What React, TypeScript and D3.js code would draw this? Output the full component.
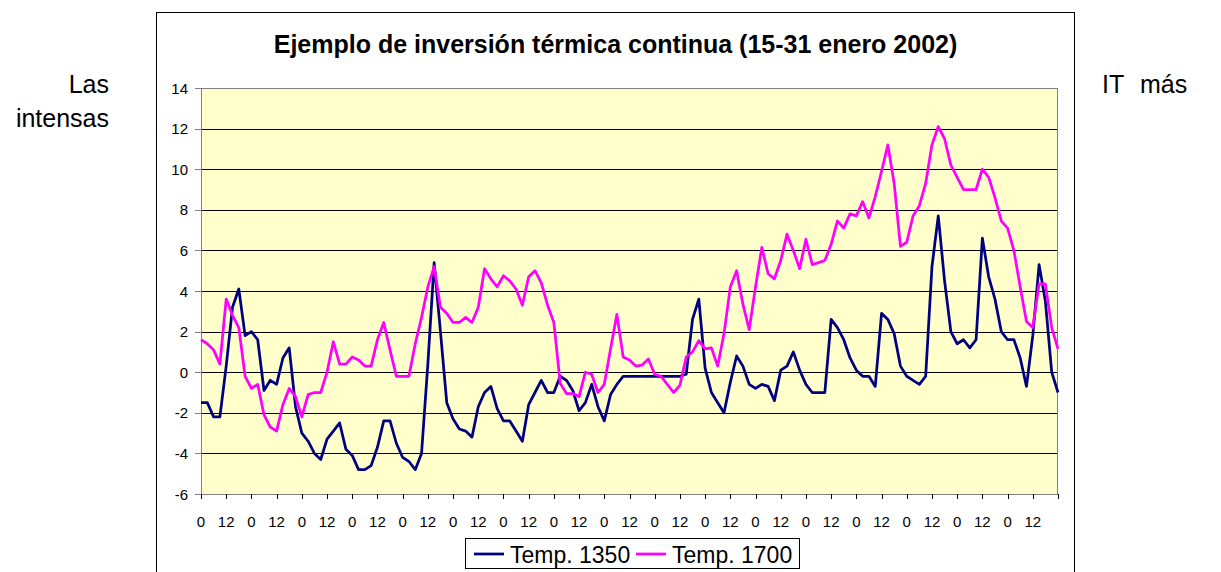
import React, { useEffect, useRef } from 'react';
import * as d3 from 'd3';

// hourly series, one value every 3 hours (15-31 Jan 2002)
const stepHours = 3;

const temp1350 = [
  -1.5, -1.5, -2.2, -2.2, 0.3, 3.2, 4.1, 1.8, 2.0, 1.6,
  -0.9, -0.4, -0.6, 0.7, 1.2, -1.7, -3.0, -3.4, -4.0, -4.3,
  -3.3, -2.9, -2.5, -3.8, -4.1, -4.8, -4.8, -4.6, -3.7, -2.4,
  -2.4, -3.5, -4.2, -4.4, -4.8, -4.0, 0.4, 5.4, 2.0, -1.5,
  -2.3, -2.8, -2.9, -3.2, -1.7, -1.0, -0.7, -1.8, -2.4, -2.4,
  -2.9, -3.4, -1.6, -1.0, -0.4, -1.0, -1.0, -0.2, -0.4, -0.9,
  -1.9, -1.5, -0.6, -1.7, -2.4, -1.1, -0.6, -0.2, -0.2, -0.2,
  -0.2, -0.2, -0.2, -0.2, -0.2, -0.2, -0.2, -0.1, 2.6, 3.6,
  0.2, -1.0, -1.5, -2.0, -0.5, 0.8, 0.3, -0.6, -0.8, -0.6,
  -0.7, -1.4, 0.1, 0.3, 1.0, 0.1, -0.6, -1.0, -1.0, -1.0,
  2.6, 2.2, 1.6, 0.7, 0.1, -0.2, -0.2, -0.7, 2.9, 2.6,
  1.9, 0.3, -0.2, -0.4, -0.6, -0.2, 5.2, 7.7, 4.5, 2.0,
  1.4, 1.6, 1.2, 1.6, 6.6, 4.7, 3.6, 2.0, 1.6, 1.6,
  0.7, -0.7, 1.8, 5.3, 3.5, 0.0, -1.0
];

const temp1700 = [
  1.6, 1.4, 1.1, 0.4, 3.6, 2.8, 2.2, -0.2, -0.8, -0.6,
  -2.1, -2.7, -2.9, -1.6, -0.8, -1.2, -2.2, -1.1, -1.0, -1.0,
  0.0, 1.5, 0.4, 0.4, 0.75, 0.6, 0.3, 0.3, 1.6, 2.45,
  1.1, -0.2, -0.2, -0.2, 1.4, 2.7, 4.2, 5.2, 3.2, 2.9,
  2.45, 2.45, 2.7, 2.45, 3.2, 5.1, 4.6, 4.2, 4.75, 4.5,
  4.1, 3.3, 4.7, 5.0, 4.4, 3.3, 2.45, -0.55, -1.05, -1.05,
  -1.2, 0.0, -0.1, -1.0, -0.6, 1.15, 2.85, 0.75, 0.6, 0.3,
  0.35, 0.65, -0.1, -0.2, -0.6, -1.0, -0.65, 0.75, 1.0, 1.55,
  1.15, 1.2, 0.3, 1.9, 4.2, 5.0, 3.35, 2.1, 4.2, 6.15,
  4.85, 4.6, 5.5, 6.8, 6.0, 5.1, 6.55, 5.3, 5.4, 5.5,
  6.3, 7.45, 7.1, 7.8, 7.7, 8.4, 7.6, 8.65, 9.9, 11.2,
  9.3, 6.2, 6.4, 7.7, 8.2, 9.3, 11.2, 12.1, 11.5, 10.2,
  9.6, 9.0, 9.0, 9.0, 10.0, 9.6, 8.6, 7.45, 7.1, 6.0,
  4.2, 2.5, 2.2, 4.35, 4.35, 2.2, 1.15
];

const tickLabels = [
  '0', '12', '0', '12', '0', '12', '0', '12', '0', '12', '0', '12',
  '0', '12', '0', '12', '0', '12', '0', '12', '0', '12', '0', '12',
  '0', '12', '0', '12', '0', '12', '0', '12', '0', '12'
];

const yTicks = [-6, -4, -2, 0, 2, 4, 6, 8, 10, 12, 14];

const seriesNames = ['Temp. 1350', 'Temp. 1700'];
const seriesColors = ['#000080', '#FF00FF'];

const title = 'Ejemplo de inversión térmica continua (15-31 enero 2002)';
const font = "Arial, 'Liberation Sans', sans-serif";

function InversionChart() {
  const ref = useRef<SVGSVGElement | null>(null);

  useEffect(() => {
    const svg = d3.select(ref.current);
    svg.selectAll('*').remove();

    const left = 201, right = 1058, top = 88, bottom = 494;
    const totalHours = tickLabels.length * 12;

    const x = d3.scaleLinear().domain([0, totalHours]).range([left, right]);
    const y = d3.scaleLinear().domain([-6, 14]).range([bottom, top]);
    const crisp = (v: number) => Math.round(v) + 0.5;

    // surrounding text of the document
    const doc = svg.append('g').attr('font-family', font).attr('font-size', 25).attr('fill', '#000');
    doc.append('text').attr('x', 109).attr('y', 93).attr('text-anchor', 'end').text('Las');
    doc.append('text').attr('x', 109).attr('y', 127).attr('text-anchor', 'end').text('intensas');
    doc.append('text').attr('x', 1102).attr('y', 93).text('IT');
    doc.append('text').attr('x', 1140).attr('y', 93).text('más');

    // chart frame
    svg.append('rect')
      .attr('x', 156.5).attr('y', 12.5)
      .attr('width', 918).attr('height', 620)
      .attr('fill', '#fff').attr('stroke', '#000');

    svg.append('text')
      .attr('x', 615.5).attr('y', 53)
      .attr('text-anchor', 'middle')
      .attr('font-family', font).attr('font-size', 25).attr('font-weight', 'bold')
      .text(title);

    svg.append('rect')
      .attr('x', left).attr('y', top)
      .attr('width', right - left).attr('height', bottom - top)
      .attr('fill', '#FFFFCC');

    svg.append('g')
      .selectAll('line')
      .data(yTicks.filter(v => v > -6 && v < 14))
      .enter()
      .append('line')
      .attr('x1', left).attr('x2', right)
      .attr('y1', d => crisp(y(d))).attr('y2', d => crisp(y(d)))
      .attr('stroke', '#000').attr('stroke-width', 1);

    svg.append('rect')
      .attr('x', left + 0.5).attr('y', crisp(top))
      .attr('width', right - left - 1).attr('height', bottom - top)
      .attr('fill', 'none').attr('stroke', '#808080');

    // y axis
    const yAxis = svg.append('g').attr('font-family', font).attr('font-size', 15);
    yAxis.selectAll('line')
      .data(yTicks)
      .enter()
      .append('line')
      .attr('x1', left - 6).attr('x2', left)
      .attr('y1', d => crisp(y(d))).attr('y2', d => crisp(y(d)))
      .attr('stroke', '#808080');
    yAxis.selectAll('text')
      .data(yTicks)
      .enter()
      .append('text')
      .attr('x', 188).attr('y', d => y(d) + 5.5)
      .attr('text-anchor', 'end')
      .text(d => d);

    // x axis
    const xTicks = d3.range(0, totalHours + 1, 12);
    const xAxis = svg.append('g').attr('font-family', font).attr('font-size', 15);
    xAxis.selectAll('line')
      .data(xTicks)
      .enter()
      .append('line')
      .attr('x1', d => crisp(x(d))).attr('x2', d => crisp(x(d)))
      .attr('y1', bottom).attr('y2', bottom + 5)
      .attr('stroke', '#000');
    xAxis.selectAll('text')
      .data(tickLabels)
      .enter()
      .append('text')
      .attr('x', (d, i) => x(i * 12))
      .attr('y', 527)
      .attr('text-anchor', 'middle')
      .text(d => d);

    // series
    const line = d3.line<number>()
      .x((d, i) => x(i * stepHours))
      .y(d => y(d));

    [temp1350, temp1700].forEach((values, i) => {
      svg.append('path')
        .datum(values)
        .attr('d', line)
        .attr('fill', 'none')
        .attr('stroke', seriesColors[i])
        .attr('stroke-width', 2.75)
        .attr('stroke-linejoin', 'round');
    });

    // legend
    const legend = svg.append('g').attr('font-family', font).attr('font-size', 23);
    legend.append('rect')
      .attr('x', 465.5).attr('y', 538.5)
      .attr('width', 334).attr('height', 30)
      .attr('fill', '#fff').attr('stroke', '#000');
    const entryX = [474, 636];
    seriesNames.forEach((name, i) => {
      legend.append('line')
        .attr('x1', entryX[i]).attr('x2', entryX[i] + 30)
        .attr('y1', 554).attr('y2', 554)
        .attr('stroke', seriesColors[i]).attr('stroke-width', 2.75);
      legend.append('text')
        .attr('x', entryX[i] + 36).attr('y', 563)
        .text(name);
    });
  }, []);

  return (
    <svg
      ref={ref}
      width={1221}
      height={572}
      style={{ position: 'absolute', left: 0, top: 0, background: '#fff' }}
    />
  );
}

export default function App() {
  return <InversionChart />;
}
